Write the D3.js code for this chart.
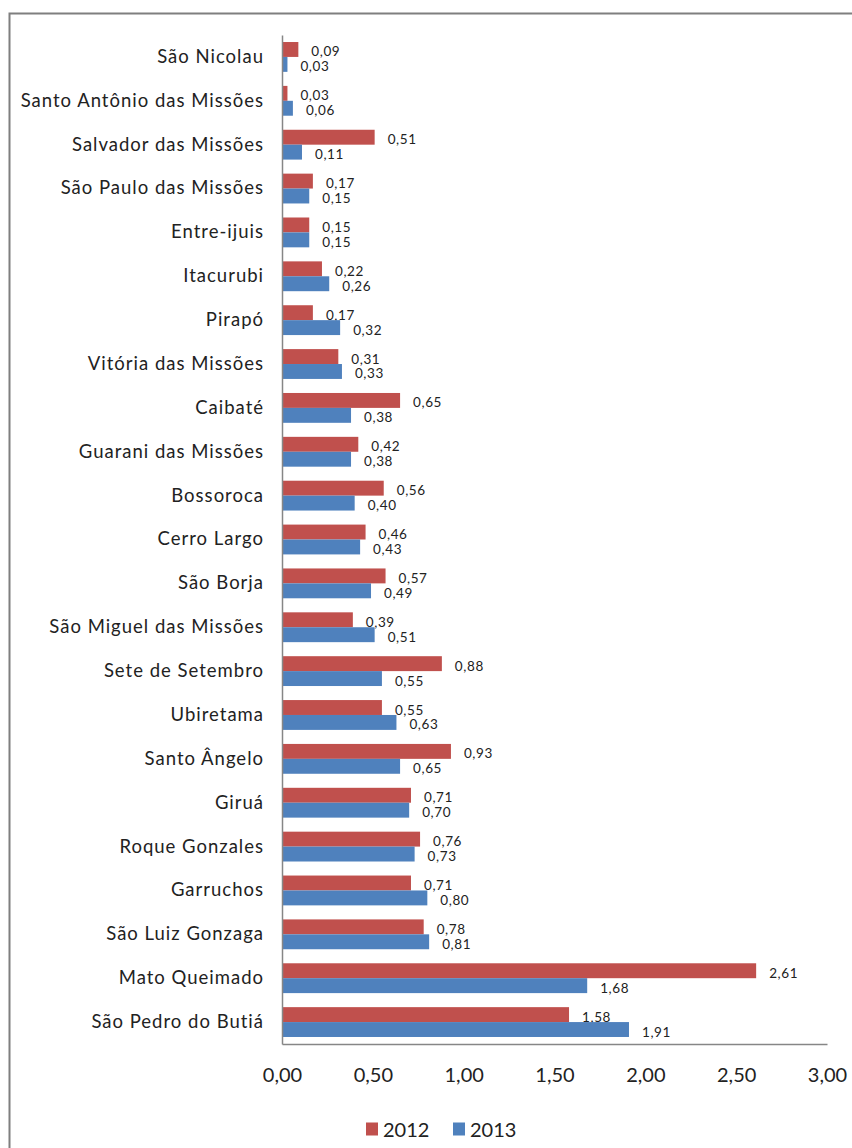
<!DOCTYPE html>
<html>
<head>
<meta charset="utf-8">
<script src="https://cdn.jsdelivr.net/npm/d3@7"></script>
<style>
  body { margin: 0; background: #fff; }
  svg { display: block; }
</style>
</head>
<body>
<script>
const municipios = [
  'São Nicolau', 'Santo Antônio das Missões', 'Salvador das Missões', 'São Paulo das Missões',
  'Entre-ijuis', 'Itacurubi', 'Pirapó', 'Vitória das Missões', 'Caibaté', 'Guarani das Missões',
  'Bossoroca', 'Cerro Largo', 'São Borja', 'São Miguel das Missões', 'Sete de Setembro',
  'Ubiretama', 'Santo Ângelo', 'Giruá', 'Roque Gonzales', 'Garruchos', 'São Luiz Gonzaga',
  'Mato Queimado', 'São Pedro do Butiá'
];
const values2012 = [0.09, 0.03, 0.51, 0.17, 0.15, 0.22, 0.17, 0.31, 0.65, 0.42, 0.56, 0.46, 0.57, 0.39, 0.88, 0.55, 0.93, 0.71, 0.76, 0.71, 0.78, 2.61, 1.58];
const values2013 = [0.03, 0.06, 0.11, 0.15, 0.15, 0.26, 0.32, 0.33, 0.38, 0.38, 0.40, 0.43, 0.49, 0.51, 0.55, 0.63, 0.65, 0.70, 0.73, 0.80, 0.81, 1.68, 1.91];
const xTicks = [0, 0.5, 1, 1.5, 2, 2.5, 3];
const series = [
  { name: '2012', values: values2012, color: '#C0504D' },
  { name: '2013', values: values2013, color: '#4F81BD' }
];

const width = 852;
const height = 1148;
const font = 'Lato, "Open Sans", sans-serif';
const fmt = v => v.toFixed(2).replace('.', ',');

const svg = d3.select('body')
  .append('svg')
  .attr('width', width)
  .attr('height', height)

// chart frame (only top and left edges visible)
svg.append('path')
  .attr('d', `M9.5,${height} V13.5 H${width}`)
  .style('fill', 'none')
  .style('stroke', '#7f7f7f')
  .style('stroke-width', 2)

const x = d3.scaleLinear()
  .domain([0, 3])
  .range([282, 827])

const y = d3.scaleBand()
  .domain(municipios)
  .range([35, 1044])
  .paddingInner(0.32)
  .paddingOuter(0.16)

const ySub = d3.scaleBand()
  .domain(series.map(s => s.name))
  .range([0, y.bandwidth()])

// bars
const groups = svg.append('g')
  .selectAll('g')
  .data(municipios)
  .enter()
  .append('g')
  .attr('transform', d => `translate(0,${y(d)})`)

series.forEach(s => {
  groups.append('rect')
    .attr('x', x(0))
    .attr('y', ySub(s.name))
    .attr('width', (d, i) => x(s.values[i]) - x(0))
    .attr('height', ySub.bandwidth())
    .style('fill', s.color)

  groups.append('text')
    .attr('x', (d, i) => x(s.values[i]) + 13)
    .attr('y', ySub(s.name) + ySub.bandwidth() / 2 + 2)
    .attr('dominant-baseline', 'central')
    .style('font-family', font)
    .style('font-size', '13.5px')
    .style('letter-spacing', '0.6px')
    .style('fill', '#222')
    .text((d, i) => fmt(s.values[i]))
})

// category axis
const yAxis = svg.append('g')
  .attr('transform', `translate(${x(0)},0)`)
  .call(d3.axisLeft(y).tickSize(0).tickPadding(18))

yAxis.select('.domain').style('stroke', '#868686').style('stroke-width', 1.5)
yAxis.selectAll('text')
  .style('font-family', font)
  .style('font-size', '18.5px')
  .style('letter-spacing', '1px')
  .style('fill', '#222')

// value axis
const xAxis = svg.append('g')
  .attr('transform', `translate(0,${y.range()[1]})`)
  .call(d3.axisBottom(x).tickValues(xTicks).tickSize(0).tickPadding(24).tickFormat(fmt))

xAxis.select('.domain').style('stroke', '#868686').style('stroke-width', 1.5)
xAxis.selectAll('text')
  .style('font-family', font)
  .style('font-size', '20px')
  .style('fill', '#222')

// legend
const legendX = d3.scalePoint()
  .domain(series.map(s => s.name))
  .range([366, 453])

const legend = svg.append('g')
  .attr('transform', 'translate(0,1129)')

const items = legend.selectAll('g')
  .data(series)
  .enter()
  .append('g')
  .attr('transform', d => `translate(${legendX(d.name)},0)`)

items.append('rect')
  .attr('x', 0)
  .attr('y', -6.5)
  .attr('width', 12)
  .attr('height', 13)
  .style('fill', d => d.color)

items.append('text')
  .attr('x', 17)
  .attr('y', 0)
  .attr('dominant-baseline', 'central')
  .style('font-family', font)
  .style('font-size', '20px')
  .style('fill', '#222')
  .text(d => d.name)
</script>
</body>
</html>
